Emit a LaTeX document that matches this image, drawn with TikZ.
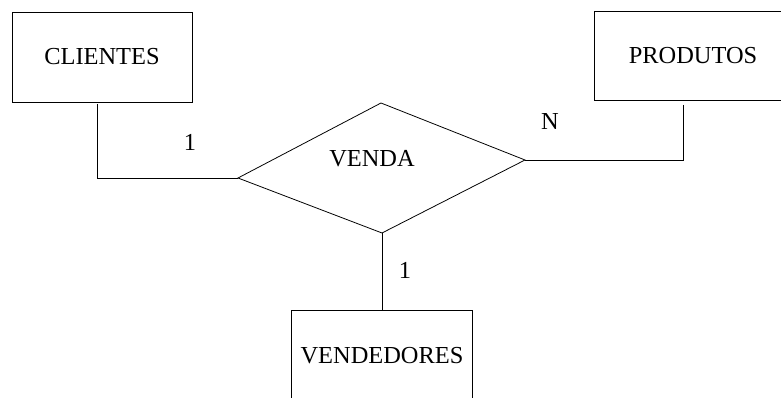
\documentclass[tikz,border=0pt]{standalone}
\usepackage{fontspec}
\setmainfont{Liberation Serif}

\begin{document}
\begin{tikzpicture}[x=0.02cm,y=-0.02cm,line width=0.45pt,
      entity/.style={draw,rectangle,inner sep=0pt,minimum height=1.8cm,font=\fontsize{13.9}{16}\selectfont},
      card/.style={inner sep=0pt,font=\fontsize{13.9}{16}\selectfont}]
      \useasboundingbox (0,0) rectangle (781,398);
      \clip (0,0) rectangle (781,398);
      \node[entity,minimum width=3.6cm] (clientes) at (102,57) {CLIENTES};
      \node[entity,minimum width=3.96cm,minimum height=1.78cm] (produtos) at (693,55.5) {PRODUTOS};
      \node[entity,minimum width=3.62cm,minimum height=1.84cm] (vendedores) at (382,356) {VENDEDORES};
      % relacionamento
      \coordinate (vl) at (238,178);
      \coordinate (vt) at (381,103);
      \coordinate (vr) at (525,160);
      \coordinate (vb) at (382,233);
      \draw (vl) -- (vt) -- (vr) -- (vb) -- cycle;
      \node[card] (venda) at (372,159) {VENDA};
      \coordinate (cli) at (97,104);
      \coordinate (pro) at (683,105);
      \draw (cli) |- (vl);
      \draw (pro) |- (vr);
      \draw (vb) -- (vendedores.north);
      \node[card] (card1) at (190,142) {1};
      \node[card] (cardN) at (550,122) {N};
      \node[card] (card2) at (405,270) {1};
\end{tikzpicture}
\end{document}
